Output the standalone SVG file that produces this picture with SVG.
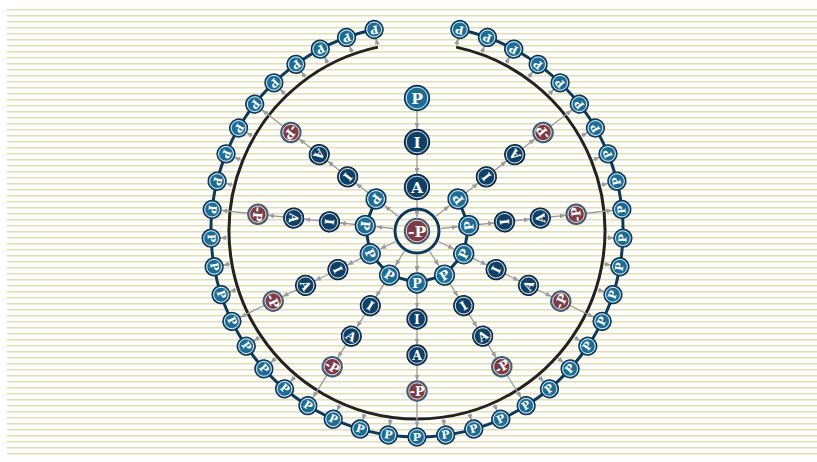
<svg xmlns="http://www.w3.org/2000/svg" width="817" height="462" viewBox="0 0 817 462">
<defs>
<pattern id="bgp" patternUnits="userSpaceOnUse" x="0" y="9" width="817" height="6"><rect x="0" y="0" width="817" height="1.5" fill="#e3ddb0"/></pattern>
<marker id="ah" viewBox="0 0 6 5" refX="6" refY="2.5" markerWidth="6" markerHeight="5" markerUnits="userSpaceOnUse" orient="auto"><path d="M0,0 L6,2.5 L0,5 z" fill="#9b9b9b"/></marker>
<style>
.arw{stroke:#9b9b9b;stroke-width:1.3;fill:none;marker-end:url(#ah)}
.ringline{fill:none;stroke:#0c3a5c;stroke-width:3}
.teal{fill:#1b6d98;stroke:#0b3352;stroke-width:1.3}
.navy{fill:#0f4068;stroke:#0a2a44;stroke-width:1.3}
.mar{fill:#7b3c48;stroke:#2c6a80;stroke-width:1.5}
.hl{fill:none;stroke:#ffffff;stroke-width:0.8}
.t{font-family:"DejaVu Serif",serif;font-weight:bold;fill:#ffffff;text-anchor:middle;dominant-baseline:central}
.s{font-size:11px}
.m{font-size:12.5px}
.b{font-size:15.5px}
</style>
</defs>
<rect width="817" height="462" fill="#ffffff"/>
<rect x="7" y="8" width="810" height="451" fill="url(#bgp)"/>
<path d="M377.91 47.11 A188 188 0 1 0 456.09 47.11" fill="none" stroke="#222222" stroke-width="3"/>
<g id="connectors">
<path class="ringline" d="M374.17 29.5 A206 206 0 1 0 459.83 29.5"/>
<polyline class="ringline" points="376.02,198.98 365.29,225.57 370.26,253.8 389.45,275.1 417,283 444.55,275.1 463.74,253.8 468.71,225.57 457.98,198.98"/>
<g transform="translate(417 231)">
<line class="arw" x1="0" y1="-120.5" x2="0" y2="-102"/>
<line class="arw" x1="0" y1="-76.5" x2="0" y2="-57"/>
<line class="arw" x1="0" y1="-31.5" x2="0" y2="-14"/>
<g transform="rotate(90)"><line class="arw" x1="24" y1="0" x2="41" y2="0"/><line class="arw" x1="62" y1="0" x2="77.5" y2="0"/><line class="arw" x1="98" y1="0" x2="113.5" y2="0"/><line class="arw" x1="134" y1="0" x2="149.5" y2="0"/><line class="arw" x1="170" y1="0" x2="196.5" y2="0"/></g>
<g transform="rotate(122)"><line class="arw" x1="24" y1="0" x2="41" y2="0"/><line class="arw" x1="62" y1="0" x2="77.5" y2="0"/><line class="arw" x1="98" y1="0" x2="113.5" y2="0"/><line class="arw" x1="134" y1="0" x2="149.5" y2="0"/><line class="arw" x1="170" y1="0" x2="196.5" y2="0"/></g>
<g transform="rotate(154)"><line class="arw" x1="24" y1="0" x2="41" y2="0"/><line class="arw" x1="62" y1="0" x2="77.5" y2="0"/><line class="arw" x1="98" y1="0" x2="113.5" y2="0"/><line class="arw" x1="134" y1="0" x2="149.5" y2="0"/><line class="arw" x1="170" y1="0" x2="196.5" y2="0"/></g>
<g transform="rotate(186)"><line class="arw" x1="24" y1="0" x2="41" y2="0"/><line class="arw" x1="62" y1="0" x2="77.5" y2="0"/><line class="arw" x1="98" y1="0" x2="113.5" y2="0"/><line class="arw" x1="134" y1="0" x2="149.5" y2="0"/><line class="arw" x1="170" y1="0" x2="196.5" y2="0"/></g>
<g transform="rotate(218)"><line class="arw" x1="24" y1="0" x2="41" y2="0"/><line class="arw" x1="62" y1="0" x2="77.5" y2="0"/><line class="arw" x1="98" y1="0" x2="113.5" y2="0"/><line class="arw" x1="134" y1="0" x2="149.5" y2="0"/><line class="arw" x1="170" y1="0" x2="196.5" y2="0"/></g>
<g transform="rotate(58)"><line class="arw" x1="24" y1="0" x2="41" y2="0"/><line class="arw" x1="62" y1="0" x2="77.5" y2="0"/><line class="arw" x1="98" y1="0" x2="113.5" y2="0"/><line class="arw" x1="134" y1="0" x2="149.5" y2="0"/><line class="arw" x1="170" y1="0" x2="196.5" y2="0"/></g>
<g transform="rotate(26)"><line class="arw" x1="24" y1="0" x2="41" y2="0"/><line class="arw" x1="62" y1="0" x2="77.5" y2="0"/><line class="arw" x1="98" y1="0" x2="113.5" y2="0"/><line class="arw" x1="134" y1="0" x2="149.5" y2="0"/><line class="arw" x1="170" y1="0" x2="196.5" y2="0"/></g>
<g transform="rotate(-6)"><line class="arw" x1="24" y1="0" x2="41" y2="0"/><line class="arw" x1="62" y1="0" x2="77.5" y2="0"/><line class="arw" x1="98" y1="0" x2="113.5" y2="0"/><line class="arw" x1="134" y1="0" x2="149.5" y2="0"/><line class="arw" x1="170" y1="0" x2="196.5" y2="0"/></g>
<g transform="rotate(-38)"><line class="arw" x1="24" y1="0" x2="41" y2="0"/><line class="arw" x1="62" y1="0" x2="77.5" y2="0"/><line class="arw" x1="98" y1="0" x2="113.5" y2="0"/><line class="arw" x1="134" y1="0" x2="149.5" y2="0"/><line class="arw" x1="170" y1="0" x2="196.5" y2="0"/></g>
<line class="arw" x1="190" y1="0" x2="197" y2="0" transform="rotate(258)"/>
<line class="arw" x1="190" y1="0" x2="197" y2="0" transform="rotate(250)"/>
<line class="arw" x1="190" y1="0" x2="197" y2="0" transform="rotate(242)"/>
<line class="arw" x1="190" y1="0" x2="197" y2="0" transform="rotate(234)"/>
<line class="arw" x1="190" y1="0" x2="197" y2="0" transform="rotate(226)"/>
<line class="arw" x1="190" y1="0" x2="197" y2="0" transform="rotate(210)"/>
<line class="arw" x1="190" y1="0" x2="197" y2="0" transform="rotate(202)"/>
<line class="arw" x1="190" y1="0" x2="197" y2="0" transform="rotate(194)"/>
<line class="arw" x1="190" y1="0" x2="197" y2="0" transform="rotate(178)"/>
<line class="arw" x1="190" y1="0" x2="197" y2="0" transform="rotate(170)"/>
<line class="arw" x1="190" y1="0" x2="197" y2="0" transform="rotate(162)"/>
<line class="arw" x1="190" y1="0" x2="197" y2="0" transform="rotate(146)"/>
<line class="arw" x1="190" y1="0" x2="197" y2="0" transform="rotate(138)"/>
<line class="arw" x1="190" y1="0" x2="197" y2="0" transform="rotate(130)"/>
<line class="arw" x1="190" y1="0" x2="197" y2="0" transform="rotate(114)"/>
<line class="arw" x1="190" y1="0" x2="197" y2="0" transform="rotate(106)"/>
<line class="arw" x1="190" y1="0" x2="197" y2="0" transform="rotate(98)"/>
<line class="arw" x1="190" y1="0" x2="197" y2="0" transform="rotate(82)"/>
<line class="arw" x1="190" y1="0" x2="197" y2="0" transform="rotate(74)"/>
<line class="arw" x1="190" y1="0" x2="197" y2="0" transform="rotate(66)"/>
<line class="arw" x1="190" y1="0" x2="197" y2="0" transform="rotate(50)"/>
<line class="arw" x1="190" y1="0" x2="197" y2="0" transform="rotate(42)"/>
<line class="arw" x1="190" y1="0" x2="197" y2="0" transform="rotate(34)"/>
<line class="arw" x1="190" y1="0" x2="197" y2="0" transform="rotate(18)"/>
<line class="arw" x1="190" y1="0" x2="197" y2="0" transform="rotate(10)"/>
<line class="arw" x1="190" y1="0" x2="197" y2="0" transform="rotate(2)"/>
<line class="arw" x1="190" y1="0" x2="197" y2="0" transform="rotate(-14)"/>
<line class="arw" x1="190" y1="0" x2="197" y2="0" transform="rotate(-22)"/>
<line class="arw" x1="190" y1="0" x2="197" y2="0" transform="rotate(-30)"/>
<line class="arw" x1="190" y1="0" x2="197" y2="0" transform="rotate(-46)"/>
<line class="arw" x1="190" y1="0" x2="197" y2="0" transform="rotate(-54)"/>
<line class="arw" x1="190" y1="0" x2="197" y2="0" transform="rotate(-62)"/>
<line class="arw" x1="190" y1="0" x2="197" y2="0" transform="rotate(-70)"/>
<line class="arw" x1="190" y1="0" x2="197" y2="0" transform="rotate(-78)"/>
</g>
</g>
<g id="n-center" transform="translate(417 231)"><circle r="22" fill="none" stroke="#0c3a5c" stroke-width="3"/><circle r="12.5" class="mar"/><circle r="10.8" class="hl"/><text class="t b">-P</text></g>
<g id="n-top-P" transform="translate(417 98)"><circle r="12.5" class="teal"/><circle r="10.8" class="hl"/><text class="t b">P</text></g>
<g id="n-top-I" transform="translate(417 142)"><circle r="12.5" class="navy"/><circle r="10.8" class="hl"/><text class="t b">I</text></g>
<g id="n-top-A" transform="translate(417 187)"><circle r="12.5" class="navy"/><circle r="10.8" class="hl"/><text class="t b">A</text></g>
<g id="s90-in" transform="translate(417 231) rotate(90) translate(52 0) rotate(-90)"><circle r="10" class="teal"/><circle r="8.4" class="hl"/><text class="t m">P</text></g>
<g id="s90-I" transform="translate(417 231) rotate(90) translate(88 0) rotate(-90)"><circle r="10" class="navy"/><circle r="8.4" class="hl"/><text class="t m">I</text></g>
<g id="s90-A" transform="translate(417 231) rotate(90) translate(124 0) rotate(-90)"><circle r="10" class="navy"/><circle r="8.4" class="hl"/><text class="t m">A</text></g>
<g id="s90-mP" transform="translate(417 231) rotate(90) translate(160 0) rotate(-90)"><circle r="10" class="mar"/><circle r="8.2" class="hl"/><text class="t m">-P</text></g>
<g id="s122-in" transform="translate(417 231) rotate(122) translate(52 0) rotate(-90)"><circle r="10" class="teal"/><circle r="8.4" class="hl"/><text class="t m">P</text></g>
<g id="s122-I" transform="translate(417 231) rotate(122) translate(88 0) rotate(-90)"><circle r="10" class="navy"/><circle r="8.4" class="hl"/><text class="t m">I</text></g>
<g id="s122-A" transform="translate(417 231) rotate(122) translate(124 0) rotate(-90)"><circle r="10" class="navy"/><circle r="8.4" class="hl"/><text class="t m">A</text></g>
<g id="s122-mP" transform="translate(417 231) rotate(122) translate(160 0) rotate(-90)"><circle r="10" class="mar"/><circle r="8.2" class="hl"/><text class="t m">-P</text></g>
<g id="s154-in" transform="translate(417 231) rotate(154) translate(52 0) rotate(-90)"><circle r="10" class="teal"/><circle r="8.4" class="hl"/><text class="t m">P</text></g>
<g id="s154-I" transform="translate(417 231) rotate(154) translate(88 0) rotate(-90)"><circle r="10" class="navy"/><circle r="8.4" class="hl"/><text class="t m">I</text></g>
<g id="s154-A" transform="translate(417 231) rotate(154) translate(124 0) rotate(-90)"><circle r="10" class="navy"/><circle r="8.4" class="hl"/><text class="t m">A</text></g>
<g id="s154-mP" transform="translate(417 231) rotate(154) translate(160 0) rotate(-90)"><circle r="10" class="mar"/><circle r="8.2" class="hl"/><text class="t m">-P</text></g>
<g id="s186-in" transform="translate(417 231) rotate(186) translate(52 0) rotate(-90)"><circle r="10" class="teal"/><circle r="8.4" class="hl"/><text class="t m">P</text></g>
<g id="s186-I" transform="translate(417 231) rotate(186) translate(88 0) rotate(-90)"><circle r="10" class="navy"/><circle r="8.4" class="hl"/><text class="t m">I</text></g>
<g id="s186-A" transform="translate(417 231) rotate(186) translate(124 0) rotate(-90)"><circle r="10" class="navy"/><circle r="8.4" class="hl"/><text class="t m">A</text></g>
<g id="s186-mP" transform="translate(417 231) rotate(186) translate(160 0) rotate(-90)"><circle r="10" class="mar"/><circle r="8.2" class="hl"/><text class="t m">-P</text></g>
<g id="s218-in" transform="translate(417 231) rotate(218) translate(52 0) rotate(-90)"><circle r="10" class="teal"/><circle r="8.4" class="hl"/><text class="t m">P</text></g>
<g id="s218-I" transform="translate(417 231) rotate(218) translate(88 0) rotate(-90)"><circle r="10" class="navy"/><circle r="8.4" class="hl"/><text class="t m">I</text></g>
<g id="s218-A" transform="translate(417 231) rotate(218) translate(124 0) rotate(-90)"><circle r="10" class="navy"/><circle r="8.4" class="hl"/><text class="t m">A</text></g>
<g id="s218-mP" transform="translate(417 231) rotate(218) translate(160 0) rotate(-90)"><circle r="10" class="mar"/><circle r="8.2" class="hl"/><text class="t m">-P</text></g>
<g id="s58-in" transform="translate(417 231) rotate(58) translate(52 0) rotate(-90)"><circle r="10" class="teal"/><circle r="8.4" class="hl"/><text class="t m">P</text></g>
<g id="s58-I" transform="translate(417 231) rotate(58) translate(88 0) rotate(-90)"><circle r="10" class="navy"/><circle r="8.4" class="hl"/><text class="t m">I</text></g>
<g id="s58-A" transform="translate(417 231) rotate(58) translate(124 0) rotate(-90)"><circle r="10" class="navy"/><circle r="8.4" class="hl"/><text class="t m">A</text></g>
<g id="s58-mP" transform="translate(417 231) rotate(58) translate(160 0) rotate(-90)"><circle r="10" class="mar"/><circle r="8.2" class="hl"/><text class="t m">-P</text></g>
<g id="s26-in" transform="translate(417 231) rotate(26) translate(52 0) rotate(-90)"><circle r="10" class="teal"/><circle r="8.4" class="hl"/><text class="t m">P</text></g>
<g id="s26-I" transform="translate(417 231) rotate(26) translate(88 0) rotate(-90)"><circle r="10" class="navy"/><circle r="8.4" class="hl"/><text class="t m">I</text></g>
<g id="s26-A" transform="translate(417 231) rotate(26) translate(124 0) rotate(-90)"><circle r="10" class="navy"/><circle r="8.4" class="hl"/><text class="t m">A</text></g>
<g id="s26-mP" transform="translate(417 231) rotate(26) translate(160 0) rotate(-90)"><circle r="10" class="mar"/><circle r="8.2" class="hl"/><text class="t m">-P</text></g>
<g id="s-6-in" transform="translate(417 231) rotate(-6) translate(52 0) rotate(-90)"><circle r="10" class="teal"/><circle r="8.4" class="hl"/><text class="t m">P</text></g>
<g id="s-6-I" transform="translate(417 231) rotate(-6) translate(88 0) rotate(-90)"><circle r="10" class="navy"/><circle r="8.4" class="hl"/><text class="t m">I</text></g>
<g id="s-6-A" transform="translate(417 231) rotate(-6) translate(124 0) rotate(-90)"><circle r="10" class="navy"/><circle r="8.4" class="hl"/><text class="t m">A</text></g>
<g id="s-6-mP" transform="translate(417 231) rotate(-6) translate(160 0) rotate(-90)"><circle r="10" class="mar"/><circle r="8.2" class="hl"/><text class="t m">-P</text></g>
<g id="s-38-in" transform="translate(417 231) rotate(-38) translate(52 0) rotate(-90)"><circle r="10" class="teal"/><circle r="8.4" class="hl"/><text class="t m">P</text></g>
<g id="s-38-I" transform="translate(417 231) rotate(-38) translate(88 0) rotate(-90)"><circle r="10" class="navy"/><circle r="8.4" class="hl"/><text class="t m">I</text></g>
<g id="s-38-A" transform="translate(417 231) rotate(-38) translate(124 0) rotate(-90)"><circle r="10" class="navy"/><circle r="8.4" class="hl"/><text class="t m">A</text></g>
<g id="s-38-mP" transform="translate(417 231) rotate(-38) translate(160 0) rotate(-90)"><circle r="10" class="mar"/><circle r="8.2" class="hl"/><text class="t m">-P</text></g>
<g id="o0" transform="translate(417 231) rotate(258) translate(206 0) rotate(-90)"><circle r="9" class="teal"/><circle r="7.4" class="hl"/><text class="t s">P</text></g>
<g id="o1" transform="translate(417 231) rotate(250) translate(206 0) rotate(-90)"><circle r="9" class="teal"/><circle r="7.4" class="hl"/><text class="t s">P</text></g>
<g id="o2" transform="translate(417 231) rotate(242) translate(206 0) rotate(-90)"><circle r="9" class="teal"/><circle r="7.4" class="hl"/><text class="t s">P</text></g>
<g id="o3" transform="translate(417 231) rotate(234) translate(206 0) rotate(-90)"><circle r="9" class="teal"/><circle r="7.4" class="hl"/><text class="t s">P</text></g>
<g id="o4" transform="translate(417 231) rotate(226) translate(206 0) rotate(-90)"><circle r="9" class="teal"/><circle r="7.4" class="hl"/><text class="t s">P</text></g>
<g id="o5" transform="translate(417 231) rotate(218) translate(206 0) rotate(-90)"><circle r="9" class="teal"/><circle r="7.4" class="hl"/><text class="t s">P</text></g>
<g id="o6" transform="translate(417 231) rotate(210) translate(206 0) rotate(-90)"><circle r="9" class="teal"/><circle r="7.4" class="hl"/><text class="t s">P</text></g>
<g id="o7" transform="translate(417 231) rotate(202) translate(206 0) rotate(-90)"><circle r="9" class="teal"/><circle r="7.4" class="hl"/><text class="t s">P</text></g>
<g id="o8" transform="translate(417 231) rotate(194) translate(206 0) rotate(-90)"><circle r="9" class="teal"/><circle r="7.4" class="hl"/><text class="t s">P</text></g>
<g id="o9" transform="translate(417 231) rotate(186) translate(206 0) rotate(-90)"><circle r="9" class="teal"/><circle r="7.4" class="hl"/><text class="t s">P</text></g>
<g id="o10" transform="translate(417 231) rotate(178) translate(206 0) rotate(-90)"><circle r="9" class="teal"/><circle r="7.4" class="hl"/><text class="t s">P</text></g>
<g id="o11" transform="translate(417 231) rotate(170) translate(206 0) rotate(-90)"><circle r="9" class="teal"/><circle r="7.4" class="hl"/><text class="t s">P</text></g>
<g id="o12" transform="translate(417 231) rotate(162) translate(206 0) rotate(-90)"><circle r="9" class="teal"/><circle r="7.4" class="hl"/><text class="t s">P</text></g>
<g id="o13" transform="translate(417 231) rotate(154) translate(206 0) rotate(-90)"><circle r="9" class="teal"/><circle r="7.4" class="hl"/><text class="t s">P</text></g>
<g id="o14" transform="translate(417 231) rotate(146) translate(206 0) rotate(-90)"><circle r="9" class="teal"/><circle r="7.4" class="hl"/><text class="t s">P</text></g>
<g id="o15" transform="translate(417 231) rotate(138) translate(206 0) rotate(-90)"><circle r="9" class="teal"/><circle r="7.4" class="hl"/><text class="t s">P</text></g>
<g id="o16" transform="translate(417 231) rotate(130) translate(206 0) rotate(-90)"><circle r="9" class="teal"/><circle r="7.4" class="hl"/><text class="t s">P</text></g>
<g id="o17" transform="translate(417 231) rotate(122) translate(206 0) rotate(-90)"><circle r="9" class="teal"/><circle r="7.4" class="hl"/><text class="t s">P</text></g>
<g id="o18" transform="translate(417 231) rotate(114) translate(206 0) rotate(-90)"><circle r="9" class="teal"/><circle r="7.4" class="hl"/><text class="t s">P</text></g>
<g id="o19" transform="translate(417 231) rotate(106) translate(206 0) rotate(-90)"><circle r="9" class="teal"/><circle r="7.4" class="hl"/><text class="t s">P</text></g>
<g id="o20" transform="translate(417 231) rotate(98) translate(206 0) rotate(-90)"><circle r="9" class="teal"/><circle r="7.4" class="hl"/><text class="t s">P</text></g>
<g id="o21" transform="translate(417 231) rotate(90) translate(206 0) rotate(-90)"><circle r="9" class="teal"/><circle r="7.4" class="hl"/><text class="t s">P</text></g>
<g id="o22" transform="translate(417 231) rotate(82) translate(206 0) rotate(-90)"><circle r="9" class="teal"/><circle r="7.4" class="hl"/><text class="t s">P</text></g>
<g id="o23" transform="translate(417 231) rotate(74) translate(206 0) rotate(-90)"><circle r="9" class="teal"/><circle r="7.4" class="hl"/><text class="t s">P</text></g>
<g id="o24" transform="translate(417 231) rotate(66) translate(206 0) rotate(-90)"><circle r="9" class="teal"/><circle r="7.4" class="hl"/><text class="t s">P</text></g>
<g id="o25" transform="translate(417 231) rotate(58) translate(206 0) rotate(-90)"><circle r="9" class="teal"/><circle r="7.4" class="hl"/><text class="t s">P</text></g>
<g id="o26" transform="translate(417 231) rotate(50) translate(206 0) rotate(-90)"><circle r="9" class="teal"/><circle r="7.4" class="hl"/><text class="t s">P</text></g>
<g id="o27" transform="translate(417 231) rotate(42) translate(206 0) rotate(-90)"><circle r="9" class="teal"/><circle r="7.4" class="hl"/><text class="t s">P</text></g>
<g id="o28" transform="translate(417 231) rotate(34) translate(206 0) rotate(-90)"><circle r="9" class="teal"/><circle r="7.4" class="hl"/><text class="t s">P</text></g>
<g id="o29" transform="translate(417 231) rotate(26) translate(206 0) rotate(-90)"><circle r="9" class="teal"/><circle r="7.4" class="hl"/><text class="t s">P</text></g>
<g id="o30" transform="translate(417 231) rotate(18) translate(206 0) rotate(-90)"><circle r="9" class="teal"/><circle r="7.4" class="hl"/><text class="t s">P</text></g>
<g id="o31" transform="translate(417 231) rotate(10) translate(206 0) rotate(-90)"><circle r="9" class="teal"/><circle r="7.4" class="hl"/><text class="t s">P</text></g>
<g id="o32" transform="translate(417 231) rotate(2) translate(206 0) rotate(-90)"><circle r="9" class="teal"/><circle r="7.4" class="hl"/><text class="t s">P</text></g>
<g id="o33" transform="translate(417 231) rotate(-6) translate(206 0) rotate(-90)"><circle r="9" class="teal"/><circle r="7.4" class="hl"/><text class="t s">P</text></g>
<g id="o34" transform="translate(417 231) rotate(-14) translate(206 0) rotate(-90)"><circle r="9" class="teal"/><circle r="7.4" class="hl"/><text class="t s">P</text></g>
<g id="o35" transform="translate(417 231) rotate(-22) translate(206 0) rotate(-90)"><circle r="9" class="teal"/><circle r="7.4" class="hl"/><text class="t s">P</text></g>
<g id="o36" transform="translate(417 231) rotate(-30) translate(206 0) rotate(-90)"><circle r="9" class="teal"/><circle r="7.4" class="hl"/><text class="t s">P</text></g>
<g id="o37" transform="translate(417 231) rotate(-38) translate(206 0) rotate(-90)"><circle r="9" class="teal"/><circle r="7.4" class="hl"/><text class="t s">P</text></g>
<g id="o38" transform="translate(417 231) rotate(-46) translate(206 0) rotate(-90)"><circle r="9" class="teal"/><circle r="7.4" class="hl"/><text class="t s">P</text></g>
<g id="o39" transform="translate(417 231) rotate(-54) translate(206 0) rotate(-90)"><circle r="9" class="teal"/><circle r="7.4" class="hl"/><text class="t s">P</text></g>
<g id="o40" transform="translate(417 231) rotate(-62) translate(206 0) rotate(-90)"><circle r="9" class="teal"/><circle r="7.4" class="hl"/><text class="t s">P</text></g>
<g id="o41" transform="translate(417 231) rotate(-70) translate(206 0) rotate(-90)"><circle r="9" class="teal"/><circle r="7.4" class="hl"/><text class="t s">P</text></g>
<g id="o42" transform="translate(417 231) rotate(-78) translate(206 0) rotate(-90)"><circle r="9" class="teal"/><circle r="7.4" class="hl"/><text class="t s">P</text></g>
</svg>
